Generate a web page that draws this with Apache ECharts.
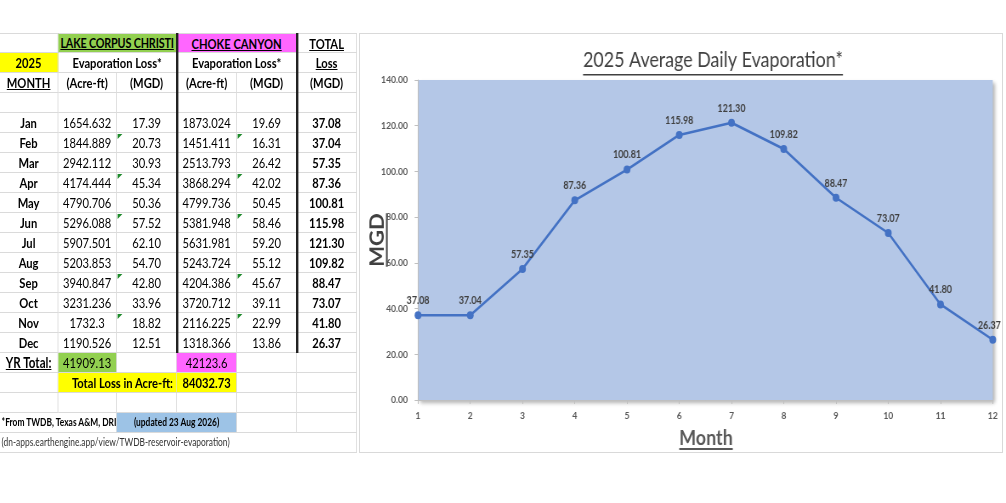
<!DOCTYPE html>
<html>
<head>
<meta charset="utf-8">
<title>2025 Average Daily Evaporation</title>
<script src="https://cdn.jsdelivr.net/npm/echarts@6/dist/echarts.min.js"></script>
<style>
body{margin:0;width:1006px;height:503px;background:#fff;overflow:hidden;font-family:Lato,sans-serif;}
#sheet{position:absolute;left:0;top:0;width:450px;height:460px;transform:scaleX(0.8);transform-origin:0 0;}
.c{position:absolute;box-sizing:border-box;border-right:1px solid #dadada;border-bottom:1px solid #dadada;font-size:14px;line-height:19px;text-align:center;white-space:nowrap;overflow:hidden;color:#000;}
.tri{position:absolute;width:0;height:0;border-top:5px solid #1f8a2c;border-right:6px solid transparent;}
.thick{position:absolute;width:2.5px;background:#222;}
#panel{position:absolute;left:359px;top:33px;width:644px;height:420px;border:1px solid #d9d9d9;box-sizing:border-box;background:#fff;overflow:hidden;}
#chart{position:absolute;left:0;top:0;width:755px;height:418px;transform:scaleX(0.85);transform-origin:0 0;}
</style>
</head>
<body>
<div id="sheet"></div>
<div id="panel"><div id="chart"></div></div>
<script>
// table / chart data
var monthNames = ['Jan','Feb','Mar','Apr','May','Jun','Jul','Aug','Sep','Oct','Nov','Dec'];
var monthNums = ['1','2','3','4','5','6','7','8','9','10','11','12'];
var lccAcreFt = [1654.632, 1844.889, 2942.112, 4174.444, 4790.706, 5296.088, 5907.501, 5203.853, 3940.847, 3231.236, 1732.3, 1190.526];
var lccMgd = [17.39, 20.73, 30.93, 45.34, 50.36, 57.52, 62.10, 54.70, 42.80, 33.96, 18.82, 12.51];
var ccAcreFt = [1873.024, 1451.411, 2513.793, 3868.294, 4799.736, 5381.948, 5631.981, 5243.724, 4204.386, 3720.712, 2116.225, 1318.366];
var ccMgd = [19.69, 16.31, 26.42, 42.02, 50.45, 58.46, 59.20, 55.12, 45.67, 39.11, 22.99, 13.86];
var totalMgd = [37.08, 37.04, 57.35, 87.36, 100.81, 115.98, 121.30, 109.82, 88.47, 73.07, 41.80, 26.37];
var flaggedRows = [1, 3, 5, 8, 10]; // green corner marks (Feb, Apr, Jun, Sep, Nov)

function sum(a) { return Math.round(a.reduce(function (s, v) { return s + v; }, 0) * 100) / 100; }
var lccTotal = sum(lccAcreFt), ccTotal = sum(ccAcreFt);
var allTotal = Math.round((lccTotal + ccTotal) * 100) / 100;

// spreadsheet part (laid out wide, then squeezed by the css scaleX)
var SX = 0.8;
var COLS = [0, 58, 117, 177, 237, 297, 357];
var ROW_TOP = 33, ROW_H = 20;
var sheet = document.getElementById('sheet');
var B = {fontWeight: 'bold'}, BU = {fontWeight: 'bold', textDecoration: 'underline'};
function ext(a, b) { var o = {}; for (var k in a) o[k] = a[k]; for (var k2 in (b || {})) o[k2] = b[k2]; return o; }
function cell(row, c0, c1, text, css) {
    var d = document.createElement('div');
    d.className = 'c';
    d.style.left = (COLS[c0] / SX) + 'px';
    d.style.width = ((COLS[c1 + 1] - COLS[c0]) / SX) + 'px';
    d.style.top = (ROW_TOP + row * ROW_H) + 'px';
    d.style.height = ROW_H + 'px';
    if (row === 0) d.style.borderTop = '1px solid #dadada';
    d.textContent = text;
    var s = css || {};
    for (var k in s) d.style[k] = s[k];
    sheet.appendChild(d);
    return d;
}

cell(0, 0, 0, '');
cell(0, 1, 2, 'LAKE CORPUS CHRISTI', ext(BU, {background: '#92D050', fontSize: '13.5px', letterSpacing: '-0.2px'}));
cell(0, 3, 4, 'CHOKE CANYON', ext(BU, {background: '#FF66FF'}));
cell(0, 5, 5, 'TOTAL', BU);
cell(1, 0, 0, '2025', ext(B, {background: '#FFFF00'}));
cell(1, 1, 2, 'Evaporation Loss*', B);
cell(1, 3, 4, 'Evaporation Loss*', B);
cell(1, 5, 5, 'Loss', BU);
cell(2, 0, 0, 'MONTH', BU);
cell(2, 1, 1, '(Acre-ft)', B);
cell(2, 2, 2, '(MGD)', B);
cell(2, 3, 3, '(Acre-ft)', B);
cell(2, 4, 4, '(MGD)', B);
cell(2, 5, 5, '(MGD)', B);
for (var c = 0; c < 6; c++) cell(3, c, c, '');

monthNames.forEach(function (m, i) {
    var r = 4 + i;
    cell(r, 0, 0, m, B);
    cell(r, 1, 1, String(lccAcreFt[i]));
    cell(r, 2, 2, lccMgd[i].toFixed(2));
    cell(r, 3, 3, String(ccAcreFt[i]));
    cell(r, 4, 4, ccMgd[i].toFixed(2));
    cell(r, 5, 5, totalMgd[i].toFixed(2), B);
    if (flaggedRows.indexOf(i) >= 0) {
        [2, 4].forEach(function (col) {
            var t = document.createElement('div');
            t.className = 'tri';
            t.style.left = (COLS[col] / SX + 1) + 'px';
            t.style.top = (ROW_TOP + r * ROW_H + 1) + 'px';
            sheet.appendChild(t);
        });
    }
});

cell(16, 0, 0, 'YR Total:', ext(BU, {fontSize: '14.5px'}));
cell(16, 1, 1, String(lccTotal), {background: '#92D050'});
cell(16, 2, 2, '');
cell(16, 3, 3, String(ccTotal), {background: '#FF66FF'});
cell(16, 4, 4, '');
cell(16, 5, 5, '');
cell(17, 0, 0, '');
cell(17, 1, 2, 'Total Loss in Acre-ft:', ext(B, {background: '#FFFF00', textAlign: 'right', paddingRight: '4px'}));
cell(17, 3, 3, allTotal.toFixed(2), ext(B, {background: '#FFFF00'}));
cell(17, 4, 4, '');
cell(17, 5, 5, '');
for (var c2 = 0; c2 < 6; c2++) cell(18, c2, c2, '');
cell(19, 0, 1, '*From TWDB, Texas A&M, DRI', ext(B, {fontSize: '10.5px', textAlign: 'left', paddingLeft: '2px'}));
cell(19, 2, 3, '(updated 23 Aug 2026)', ext(B, {fontSize: '10.5px', background: '#9DC3E6'}));
cell(19, 4, 4, '');
cell(19, 5, 5, '');
cell(20, 0, 5, '(dn-apps.earthengine.app/view/TWDB-reservoir-evaporation)', {fontSize: '10.5px', textAlign: 'left', paddingLeft: '2px', color: '#333'});

[176, 296].forEach(function (x) {
    var l = document.createElement('div');
    l.className = 'thick';
    l.style.left = (x / SX) + 'px';
    l.style.top = ROW_TOP + 'px';
    l.style.height = (16 * ROW_H) + 'px';
    sheet.appendChild(l);
});

// chart part (canvas is wider than the panel and squeezed with scaleX 0.85)
var CX = 0.85;
var titleText = '2025 Average Daily Evaporation*';
var measure = document.createElement('canvas').getContext('2d');
function textW(font, s) { measure.font = font; return measure.measureText(s).width; }
var titleFont = '21px Lato';
var monthFont = 'bold 21px Lato';
var mgdFont = 'bold 22px Lato';
var tw = textW(titleFont, titleText), mw = textW(monthFont, 'Month'), gw = textW(mgdFont, 'MGD');
var titleX = 353 / CX, monthX = 346 / CX;

var seriesData = totalMgd.map(function (v, i) {
    // Excel nudged the last label inside the chart frame
    return i === totalMgd.length - 1 ? {value: v, label: {offset: [-4, 0]}} : v;
});

var myChart = echarts.init(document.getElementById('chart'));
var option = {
    animation: false,
    textStyle: {fontFamily: 'Lato'},
    grid: {
        left: 58 / CX, right: 9 / CX, top: 46, bottom: 52,
        show: true, backgroundColor: '#B4C7E7', borderWidth: 0,
        shadowColor: 'rgba(0,0,0,0.3)', shadowBlur: 4, shadowOffsetX: 3, shadowOffsetY: 3
    },
    xAxis: {
        type: 'category',
        data: monthNums,
        boundaryGap: false,
        axisLine: {lineStyle: {color: '#bfbfbf'}},
        axisTick: {show: true, length: 4, lineStyle: {color: '#bfbfbf'}},
        axisLabel: {color: '#595959', fontSize: 10, fontWeight: 'bold', margin: 11}
    },
    yAxis: {
        type: 'value',
        min: 0, max: 140, interval: 20,
        axisLine: {show: true, lineStyle: {color: '#bfbfbf'}},
        axisTick: {show: true, length: 4, lineStyle: {color: '#bfbfbf'}},
        splitLine: {show: false},
        axisLabel: {
            color: '#595959', fontSize: 10, fontWeight: 'bold', margin: 12,
            formatter: function (v) { return v.toFixed(2); }
        }
    },
    series: [{
        type: 'line',
        data: seriesData,
        symbol: 'circle',
        symbolSize: 8,
        lineStyle: {color: '#4472C4', width: 2.5},
        itemStyle: {color: '#4472C4'},
        label: {
            show: true, position: 'top', distance: 5,
            color: '#404040', fontSize: 10.5, fontWeight: 'bold',
            formatter: function (p) { return p.value.toFixed(2); }
        }
    }],
    graphic: [
        {type: 'text', left: titleX - tw / 2, top: 16,
            style: {text: titleText, font: titleFont, fill: '#404040'}},
        {type: 'rect', shape: {x: titleX - tw / 2, y: 40, width: tw, height: 1.5}, style: {fill: '#404040'}},
        {type: 'text', left: monthX - mw / 2, top: 394,
            style: {text: 'Month', font: monthFont, fill: '#595959'}},
        {type: 'rect', shape: {x: monthX - mw / 2, y: 414, width: mw, height: 2}, style: {fill: '#595959'}},
        {type: 'text', x: 8 / CX, y: 206 + gw / 2, rotation: Math.PI / 2,
            style: {text: 'MGD', font: mgdFont, fill: '#404040', textVerticalAlign: 'top'}},
        {type: 'rect', shape: {x: 26 / CX, y: 206 - gw / 2, width: 2, height: gw}, style: {fill: '#404040'}}
    ]
};
myChart.setOption(option);
</script>
</body>
</html>
